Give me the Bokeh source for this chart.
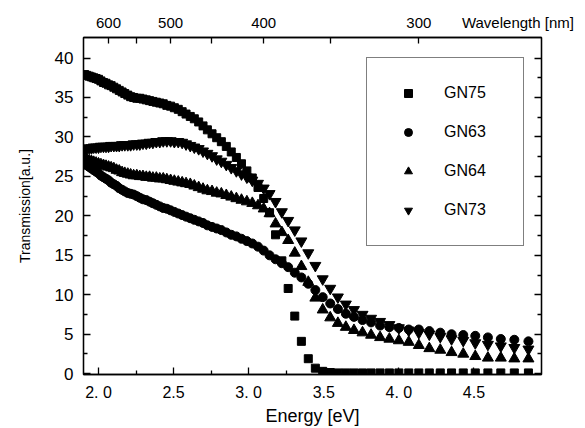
from bokeh.plotting import figure
from bokeh.models import Range1d, LinearAxis, FixedTicker
from bokeh.embed import file_html
from bokeh.resources import INLINE

# ---------------- data ----------------
energy_ev = [1.908, 1.922, 1.938, 1.953, 1.968, 1.984, 2.000, 2.016, 2.033, 2.050,
             2.067, 2.084, 2.102, 2.120, 2.138, 2.157, 2.175, 2.195, 2.214, 2.234,
             2.255, 2.275, 2.296, 2.318, 2.340, 2.362, 2.385, 2.408, 2.431, 2.455,
             2.480, 2.505, 2.531, 2.557, 2.583, 2.611, 2.638, 2.667, 2.696, 2.725,
             2.756, 2.787, 2.818, 2.851, 2.884, 2.918, 2.952, 2.988, 3.024, 3.062,
             3.100, 3.139, 3.179, 3.221, 3.263, 3.307, 3.351, 3.397, 3.444, 3.493,
             3.543, 3.594, 3.647, 3.701, 3.758, 3.815, 3.875, 3.937, 4.000, 4.066,
             4.133, 4.203, 4.276, 4.351, 4.429, 4.509, 4.593, 4.679, 4.769, 4.863]

gn75 = [37.9, 37.8, 37.7, 37.6, 37.5, 37.4, 37.3, 37.1, 36.9, 36.8,
        36.6, 36.5, 36.3, 36.1, 35.9, 35.7, 35.5, 35.3, 35.1, 35.0,
        34.9, 34.9, 34.8, 34.7, 34.6, 34.5, 34.4, 34.3, 34.2, 34.0,
        33.9, 33.7, 33.5, 33.2, 32.9, 32.6, 32.3, 31.9, 31.4, 30.9,
        30.4, 29.9, 29.4, 28.8, 28.1, 27.4, 26.6, 25.7, 24.8, 23.6,
        22.2, 20.4, 17.6, 14.3, 10.8, 7.3, 4.1, 1.9, 0.7, 0.3,
        0.15, 0.1, 0.1, 0.1, 0.1, 0.1, 0.1, 0.1, 0.1, 0.1,
        0.1, 0.1, 0.1, 0.1, 0.1, 0.1, 0.1, 0.1, 0.1, 0.1]

gn63 = [26.6, 26.4, 26.2, 26.0, 25.8, 25.6, 25.4, 25.1, 24.9, 24.7,
        24.5, 24.2, 24.0, 23.8, 23.5, 23.3, 23.1, 22.9, 22.8, 22.7,
        22.5, 22.3, 22.1, 22.0, 21.8, 21.6, 21.4, 21.2, 21.0, 20.9,
        20.7, 20.5, 20.3, 20.1, 19.9, 19.7, 19.5, 19.3, 19.1, 18.8,
        18.6, 18.4, 18.2, 17.9, 17.6, 17.4, 17.1, 16.8, 16.5, 16.1,
        15.6, 15.0, 14.5, 14.0, 13.5, 12.8, 12.2, 11.4, 10.6, 9.7,
        8.9, 8.2, 7.6, 7.2, 6.8, 6.5, 6.1, 5.9, 5.8, 5.6,
        5.6, 5.4, 5.2, 5.0, 4.9, 4.8, 4.6, 4.4, 4.3, 4.1]

gn64 = [27.2, 27.1, 27.0, 26.9, 26.8, 26.7, 26.6, 26.5, 26.4, 26.3,
        26.2, 26.1, 26.0, 25.8, 25.7, 25.5, 25.4, 25.3, 25.2, 25.1,
        25.1, 25.0, 25.0, 24.9, 24.9, 24.8, 24.8, 24.7, 24.7, 24.6,
        24.5, 24.4, 24.3, 24.2, 24.1, 24.0, 23.8, 23.6, 23.4, 23.2,
        23.1, 22.9, 22.8, 22.6, 22.4, 22.2, 22.0, 21.8, 21.6, 21.3,
        20.9, 20.3, 19.0, 17.9, 16.9, 15.3, 13.6, 11.6, 9.6, 8.1,
        7.1, 6.4, 5.9, 5.5, 5.2, 4.9, 4.6, 4.4, 4.2, 4.0,
        3.6, 3.2, 3.0, 2.7, 2.5, 2.2, 2.0, 2.0, 1.9, 1.9]

gn73 = [28.5, 28.5, 28.6, 28.6, 28.7, 28.7, 28.7, 28.8, 28.8, 28.8,
        28.8, 28.9, 28.9, 28.9, 28.9, 29.0, 29.0, 29.0, 29.0, 29.1,
        29.1, 29.1, 29.2, 29.2, 29.3, 29.3, 29.4, 29.4, 29.5, 29.5,
        29.5, 29.4, 29.4, 29.3, 29.1, 28.9, 28.7, 28.5, 28.2, 27.9,
        27.6, 27.2, 26.9, 26.5, 26.1, 25.7, 25.3, 24.9, 24.5, 24.1,
        23.5, 22.8, 21.8, 20.5, 19.4, 18.2, 16.8, 15.3, 13.7, 12.0,
        10.8, 9.7, 8.8, 8.1, 7.5, 7.0, 6.6, 6.2, 5.8, 5.5,
        5.2, 5.0, 4.7, 4.4, 4.2, 3.9, 3.7, 3.5, 3.3, 3.1]

x_ticks = [2.0, 2.5, 3.0, 3.5, 4.0, 4.5]
x_tick_labels = ["2. 0", "2.5", "3. 0", "3.5", "4. 0", "4.5"]
x_minor = [2.25, 2.75, 3.25, 3.75, 4.25, 4.75]
y_ticks = [0, 5, 10, 15, 20, 25, 30, 35, 40]
y_minor = [2.5, 7.5, 12.5, 17.5, 22.5, 27.5, 32.5, 37.5]
wl_ticks_nm = [600, 500, 400, 300]
wl_tick_labels = ["600", "500", "400", "300"]
wl_minor_nm = [550, 450, 350]
HC_EV_NM = 1240.0
top_title = "Wavelength [nm]"
top_title_ev = 4.793   # where the top-axis title sits (energy scale)

FONT = "Liberation Sans"

p = figure(width=585, height=428,
           x_range=Range1d(1.9, 4.95), y_range=Range1d(-0.1, 42.6),
           output_backend="svg", toolbar_location=None,
           min_border_left=83, min_border_right=44,
           min_border_top=37, min_border_bottom=54)
p.grid.visible = False
p.outline_line_color = "black"
p.outline_line_width = 1.3
p.background_fill_color = "white"
p.border_fill_color = "white"

def style_axis(ax):
    ax.axis_line_color = "black"
    ax.axis_line_width = 1.3
    ax.major_tick_line_color = "black"
    ax.minor_tick_line_color = "black"
    ax.major_tick_line_width = 1.3
    ax.minor_tick_line_width = 1.3
    ax.major_tick_in = 7
    ax.major_tick_out = 0
    ax.minor_tick_in = 4
    ax.minor_tick_out = 0
    ax.major_label_text_font = FONT
    ax.major_label_text_color = "black"
    ax.axis_label_text_font_style = "normal"
    ax.axis_label_text_color = "black"

# bottom axis
xb = p.below[0]
style_axis(xb)
xb.ticker = FixedTicker(ticks=x_ticks, minor_ticks=x_minor)
xb.major_label_overrides = dict(zip(x_ticks, x_tick_labels))
xb.major_label_text_font_size = "16px"
xb.major_label_standoff = 9
xb.axis_label = "Energy [eV]"
xb.axis_label_text_font = FONT
xb.axis_label_text_font_size = "18px"
xb.axis_label_standoff = 2

# left axis
yl = p.left[0]
style_axis(yl)
yl.ticker = FixedTicker(ticks=y_ticks, minor_ticks=y_minor)
yl.major_label_text_font_size = "17px"
yl.major_label_standoff = 10
yl.axis_label = "Transmission[a.u.]"
yl.axis_label_text_font = FONT
yl.axis_label_text_font_size = "14px"
yl.axis_label_standoff = 19

# right axis (ticks only)
yr = LinearAxis(ticker=FixedTicker(ticks=y_ticks, minor_ticks=y_minor))
style_axis(yr)
yr.major_label_overrides = {t: "" for t in y_ticks}
yr.major_label_standoff = 0
p.add_layout(yr, "right")

# top axis: wavelength scale (tick marks drawn as minor ticks, labels as major)
wl_pos = [HC_EV_NM / w for w in wl_ticks_nm]
wl_marks = [HC_EV_NM / w for w in sorted(wl_ticks_nm + wl_minor_nm, reverse=True)]
top_pos = wl_pos + [top_title_ev]
top_labels = wl_tick_labels + [top_title]
xt = LinearAxis(ticker=FixedTicker(ticks=top_pos, minor_ticks=wl_marks))
style_axis(xt)
xt.major_tick_in = 0
xt.minor_tick_in = 6
xt.major_label_overrides = dict(zip(top_pos, top_labels))
xt.major_label_text_font_size = "15px"
xt.major_label_standoff = 7
p.add_layout(xt, "above")

# data
p.scatter(energy_ev, gn75, marker="square", size=8, color="black", legend_label="GN75")
p.scatter(energy_ev, gn63, marker="circle", size=9, color="black", legend_label="GN63")
p.scatter(energy_ev, gn64, marker="triangle", size=11, color="black", legend_label="GN64")
p.scatter(energy_ev, gn73, marker="inverted_triangle", size=11, color="black", legend_label="GN73")

leg = p.legend[0]
leg.location = (283, 128)
leg.margin = 0
leg.padding = 25
leg.spacing = 19
leg.glyph_width = 32
leg.glyph_height = 20
leg.label_height = 20
leg.label_width = 54
leg.label_standoff = 20
leg.label_text_font = FONT
leg.label_text_font_size = "16px"
leg.label_text_color = "black"
leg.border_line_color = "black"
leg.border_line_width = 1.3
leg.background_fill_color = "white"
leg.background_fill_alpha = 1.0

open("out.html", "w").write(file_html(p, INLINE))
